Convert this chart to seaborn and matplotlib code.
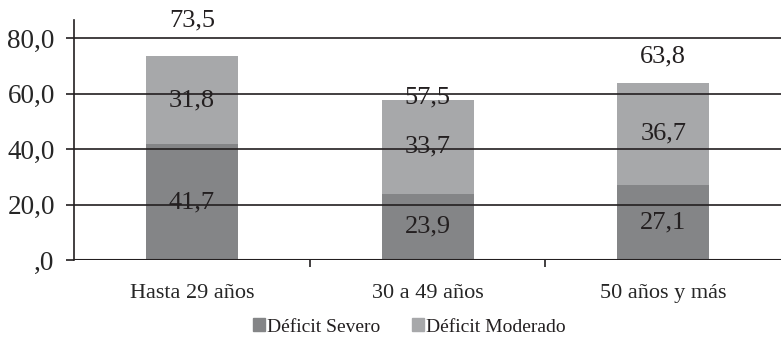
import pandas as pd
import numpy as np
import seaborn as sns
import matplotlib.pyplot as plt
from matplotlib.patches import Patch
from matplotlib.ticker import FuncFormatter

grupos = ["Hasta 29 años", "30 a 49 años", "50 años y más"]
severo = [41.7, 23.9, 27.1]
moderado = [31.8, 33.7, 36.7]
total = [73.5, 57.5, 63.8]

c_sev = "#848587"
c_mod = "#a7a8aa"
c_txt = "#231f20"

df = pd.DataFrame({"grupo": grupos, "severo": severo, "moderado": moderado, "total": total})
df["tope"] = df["severo"] + df["moderado"]

sns.set_style("white")
plt.rcParams["font.family"] = ["Liberation Serif", "DejaVu Serif"]
plt.rcParams["text.color"] = c_txt

fig = plt.figure(figsize=(7.81, 3.39), dpi=100)
ax = fig.add_axes([0.095, 0.233, 0.905, 0.708])

# stacked look: full bar in light grey, then severe part over it
sns.barplot(data=df, x="grupo", y="tope", color=c_mod, width=0.39, saturation=1,
            linewidth=0, ax=ax, zorder=1)
sns.barplot(data=df, x="grupo", y="severo", color=c_sev, width=0.39, saturation=1,
            linewidth=0, ax=ax, zorder=1)

for i in range(len(df)):
    ax.text(i, df["severo"][i] / 2, f"{df['severo'][i]:.1f}".replace(".", ","),
            ha="center", va="center", fontsize=19, zorder=3)
    ax.text(i, df["severo"][i] + df["moderado"][i] / 2, f"{df['moderado'][i]:.1f}".replace(".", ","),
            ha="center", va="center", fontsize=19, zorder=3)

# total labels, placed by hand as in the original
lift = [13.0, 1.2, 9.5]
for i in range(len(df)):
    ax.text(i, df["total"][i] + lift[i], f"{df['total'][i]:.1f}".replace(".", ","),
            ha="center", va="center", fontsize=19, zorder=3)

ax.set_ylim(0, 86.5)
ax.set_xlim(-0.5, 2.5)
ax.set_yticks([0, 20, 40, 60, 80])
ax.yaxis.set_major_formatter(FuncFormatter(lambda v, p: ("%.1f" % v).replace(".", ",").lstrip("0")))
ax.set_axisbelow(False)
ax.grid(axis="y", color="#231f20", linewidth=1.2, zorder=2)
ax.tick_params(axis="y", which="major", left=True, length=6, width=1.2, color="#231f20",
               labelsize=19.5, pad=8)
ax.tick_params(axis="x", which="major", length=0, labelsize=16, pad=17)
ax.set_xticks([0.5, 1.5], minor=True)
ax.tick_params(axis="x", which="minor", bottom=True, length=5, width=1.2, color="#231f20")
ax.set_xlabel("")
ax.set_ylabel("")
for s in ["top", "right", "bottom"]:
    ax.spines[s].set_visible(False)
ax.spines["left"].set_color("#231f20")
ax.spines["left"].set_linewidth(1.2)
ax.axhline(0, color="#231f20", linewidth=1.5, zorder=2)

handles = [Patch(color=c_sev, label="Déficit Severo"), Patch(color=c_mod, label="Déficit Moderado")]
fig.legend(handles=handles, loc="center", bbox_to_anchor=(0.524, 0.035), ncol=2, frameon=False,
           fontsize=14, handlelength=0.65, handleheight=0.65, handletextpad=0.1, columnspacing=1.6)

fig.savefig("out.png", dpi=100)
